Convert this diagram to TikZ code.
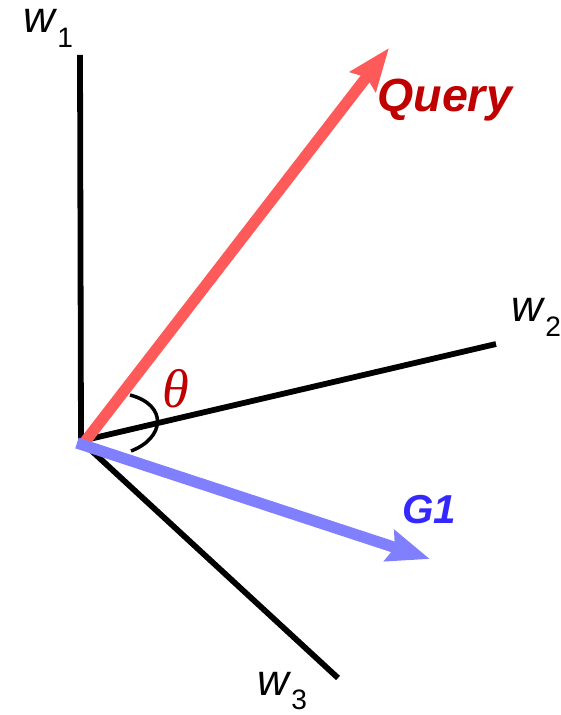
\documentclass[tikz,border=0pt]{standalone}
\usepackage{fontspec}
\setmainfont{Liberation Sans}
\newfontfamily\thetafont{Liberation Serif}
\usetikzlibrary{arrows.meta}

\begin{document}
\begin{tikzpicture}[
    x=0.02cm, y=-0.02cm,
    axis/.style={line width=3.3pt, black},
    vec/.style={line width=6.4pt, -{Stealth[length=24pt, width=18pt, inset=3pt]}},
    wlabel/.style={anchor=base west, inner sep=0pt, font=\fontsize{25}{25}\selectfont},
    vlabel/.style={anchor=base west, inner sep=0pt, font=\bfseries\itshape}
  ]
    \useasboundingbox (0,0) rectangle (560,715);
    \definecolor{qline}{RGB}{255,90,90}
    \definecolor{qtext}{RGB}{192,0,0}
    \definecolor{gline}{RGB}{128,128,255}
    \definecolor{gtext}{RGB}{52,40,255}

    \coordinate (o)   at (81,441);
    \coordinate (w1e) at (80,55);
    \coordinate (w2e) at (496,344);
    \coordinate (w3e) at (338,678);
    \coordinate (qs)  at (84,443);
    \coordinate (qe)  at (389,48);
    \coordinate (gs)  at (77,443);
    \coordinate (ge)  at (430,559);
    \coordinate (a1)  at (130,395);
    \coordinate (a2)  at (131,451);

    \draw[axis] (o) -- (w1e);
    \draw[axis] (o) -- (w2e);
    \draw[axis] (o) -- (w3e);
    \draw[line width=2pt] (a1) .. controls (168,405) and (165,438) .. (a2);

    \draw[vec, qline] (qs) -- (qe);
    \draw[vec, gline] (gs) -- (ge);

    \node[wlabel] (w1) at (23,33)  {\textit{w}\raisebox{-8pt}{\fontsize{16}{16}\selectfont 1}};
    \node[wlabel] (w2) at (511,322) {\textit{w}\raisebox{-8pt}{\fontsize{16}{16}\selectfont 2}};
    \node[wlabel] (w3) at (257,695) {\textit{w}\raisebox{-8pt}{\fontsize{16}{16}\selectfont 3}};

    \node[vlabel, text=qtext, font=\fontsize{26.5}{26.5}\selectfont\bfseries\itshape] (query) at (377,112) {Query};
    \node[vlabel, text=gtext, font=\fontsize{23}{23}\selectfont\bfseries\itshape] (g1) at (402,523) {G1};
    \node[text=qtext, inner sep=0pt, font=\fontsize{31}{31}\selectfont\thetafont\itshape] (theta) at (176,389) {θ};
  \end{tikzpicture}
\end{document}
